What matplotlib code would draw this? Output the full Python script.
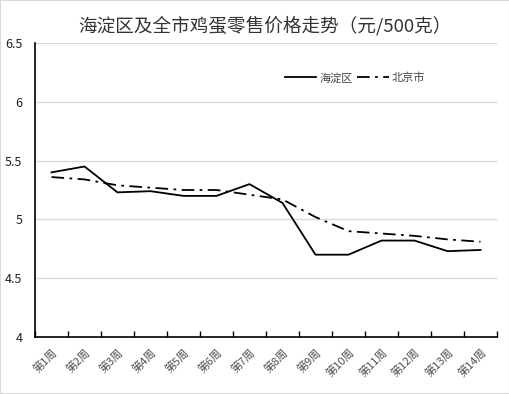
import numpy as np
import matplotlib
matplotlib.use('Agg')
from matplotlib import pyplot as plt
from matplotlib.patches import Rectangle

plt.rcParams['font.family'] = ['Noto Sans CJK SC', 'DejaVu Sans']

weeks = ['第1周', '第2周', '第3周', '第4周', '第5周', '第6周', '第7周',
         '第8周', '第9周', '第10周', '第11周', '第12周', '第13周', '第14周']
haidian = [5.40, 5.45, 5.23, 5.24, 5.20, 5.20, 5.30,
           5.14, 4.70, 4.70, 4.82, 4.82, 4.73, 4.74]
beijing = [5.36, 5.34, 5.29, 5.27, 5.25, 5.25, 5.21,
           5.17, 5.02, 4.90, 4.88, 4.86, 4.83, 4.81]

fig = plt.figure(figsize=(5.10, 3.94), dpi=100)
ax = fig.add_axes([0.0686, 0.1447, 0.9059, 0.7461])

x = np.arange(len(weeks))
ax.plot(x, haidian, '-', color='black', lw=1.3, label='海淀区')
ax.plot(x, beijing, color='black', lw=1.3, linestyle=(0, (7, 3, 1.5, 3)), label='北京市')

ax.set_xlim(-0.5, len(weeks) - 0.5)
ax.set_ylim(4, 6.5)
ax.set_yticks([4, 4.5, 5, 5.5, 6, 6.5])
ax.set_yticklabels(['4', '4.5', '5', '5.5', '6', '6.5'])
ax.yaxis.grid(True, color='#d9d9d9', lw=1)
ax.set_axisbelow(True)

# category boundaries get the ticks, centres get the labels
ax.set_xticks(np.arange(-0.5, len(weeks), 1))
ax.set_xticklabels([])
ax.set_xticks(x, minor=True)
ax.set_xticklabels(weeks, minor=True, rotation=45, ha='right',
                   rotation_mode='anchor', fontsize=8, color='#505050')
ax.tick_params(axis='x', which='major', direction='in', length=4, width=1, color='black')
ax.tick_params(axis='x', which='minor', length=0, pad=7)
ax.tick_params(axis='y', length=0, pad=9, labelsize=9, labelcolor='#222222')

for s in ['top', 'right']:
    ax.spines[s].set_visible(False)
for s in ['left', 'bottom']:
    ax.spines[s].set_color('black')
    ax.spines[s].set_linewidth(1.2)

ax.legend(loc='center left', bbox_to_anchor=(0.52, 0.881), ncol=2, frameon=False,
          fontsize=8, handlelength=2.8, handletextpad=0.3, columnspacing=0.4,
          labelcolor='#444444')

fig.text(0.52, 0.936, '海淀区及全市鸡蛋零售价格走势（元/500克）', ha='center', va='center',
         fontsize=13.4, color='#333333')

fig.patches.append(Rectangle((0, 0), 1, 1, transform=fig.transFigure, fill=False,
                             edgecolor='#d9d9d9', lw=1.5))

fig.savefig('out.png', dpi=100)
